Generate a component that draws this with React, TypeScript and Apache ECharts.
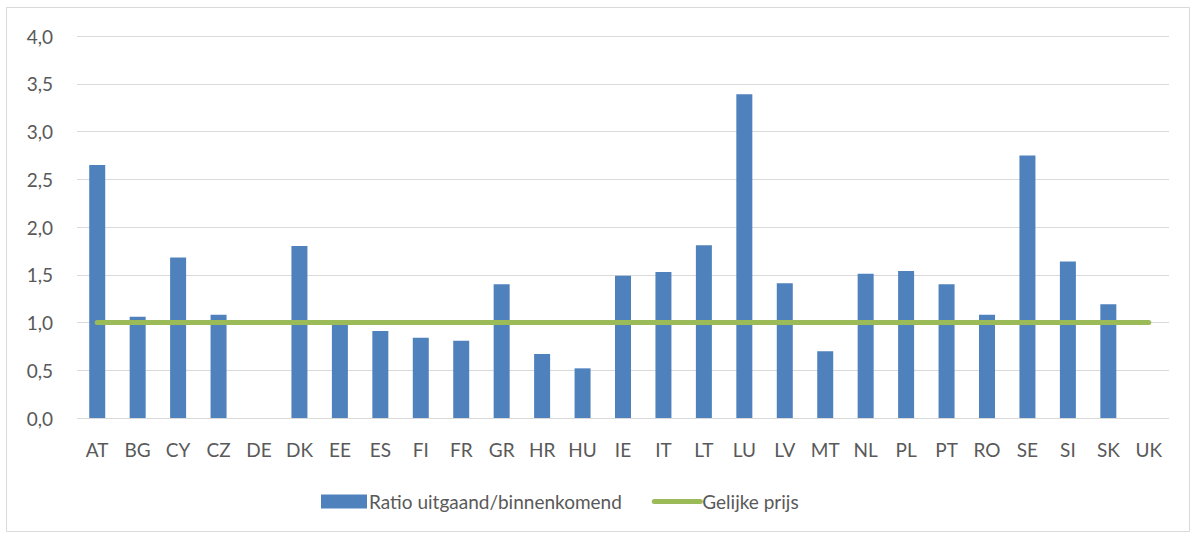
import React, { useEffect, useRef } from "react";
import * as echarts from "echarts";

const categories = ["AT","BG","CY","CZ","DE","DK","EE","ES","FI","FR","GR","HR","HU","IE","IT","LT","LU","LV","MT","NL","PL","PT","RO","SE","SI","SK","UK"];
const ratioValues = [2.65,1.06,1.68,1.08,null,1.80,0.99,0.91,0.84,0.81,1.40,0.67,0.52,1.49,1.53,1.81,3.39,1.41,0.70,1.51,1.54,1.40,1.08,2.75,1.64,1.19,null];
const equalPrice = [1,1,1,1,1,1,1,1,1,1,1,1,1,1,1,1,1,1,1,1,1,1,1,1,1,1,1];
const seriesNames = ["Ratio uitgaand/binnenkomend", "Gelijke prijs"];

const FONT = "Lato";
const TXT = "#595959";

export default function App() {
  const ref = useRef<HTMLDivElement>(null);
  useEffect(() => {
    if (!ref.current) return;
    const chart = echarts.init(ref.current, null, { renderer: "svg" });
    chart.setOption({
      animation: false,
      backgroundColor: "#ffffff",
      textStyle: { fontFamily: FONT },
      graphic: [
        { type: "rect", shape: { x: 6.5, y: 7.5, width: 1183, height: 524 }, style: { fill: "none", stroke: "#d9d9d9", lineWidth: 1 }, silent: true }
      ],
      grid: { left: 77, right: 27, top: 36, bottom: 118 },
      legend: {
        bottom: 20,
        left: 316,
        itemGap: 30,
        itemWidth: 46,
        itemHeight: 14,
        textStyle: { color: TXT, fontSize: 19, fontFamily: FONT, padding: [0, 0, 0, -3] },
        data: [
          { name: seriesNames[0], icon: "rect" },
          { name: seriesNames[1], itemStyle: { opacity: 0 }, lineStyle: { width: 5, cap: "round", color: "#9bbb59" } }
        ]
      },
      xAxis: {
        type: "category",
        data: categories,
        axisLine: { show: false },
        axisTick: { show: false },
        axisLabel: { color: TXT, fontSize: 19, margin: 22, fontFamily: FONT }
      },
      yAxis: {
        type: "value",
        min: 0,
        max: 4,
        interval: 0.5,
        axisLine: { show: false },
        axisTick: { show: false },
        splitLine: { lineStyle: { color: "#d9d9d9", width: 1 } },
        axisLabel: {
          color: TXT,
          fontSize: 19,
          margin: 24,
          fontFamily: FONT,
          formatter: (v: number) => v.toFixed(1).replace(".", ",")
        }
      },
      series: [
        {
          name: seriesNames[0],
          type: "bar",
          data: ratioValues,
          barWidth: 16,
          itemStyle: { color: "#4f81bd" }
        },
        {
          name: seriesNames[1],
          type: "line",
          data: equalPrice,
          symbol: "none",
          lineStyle: { color: "#9bbb59", width: 5, cap: "round" },
          itemStyle: { color: "#9bbb59" },
          z: 3
        }
      ]
    });
    return () => chart.dispose();
  }, []);
  return <div ref={ref} style={{ position: "fixed", left: 0, top: 0, width: 1196, height: 536 }} />;
}
